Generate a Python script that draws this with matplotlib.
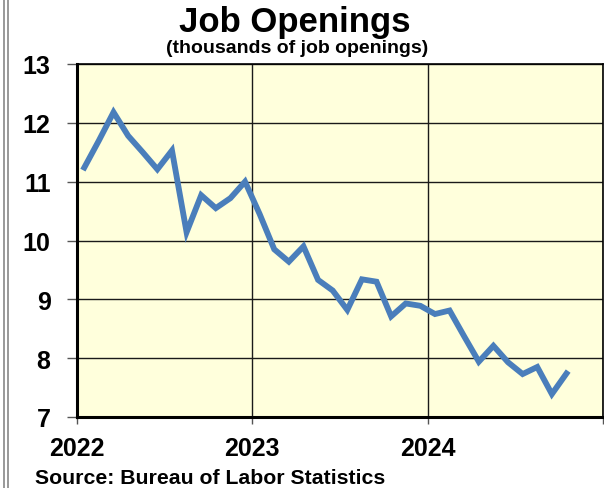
import matplotlib
matplotlib.use("Agg")
import matplotlib.pyplot as plt
from matplotlib.lines import Line2D

plt.rcParams['font.family'] = ['Liberation Sans', 'DejaVu Sans']
plt.rcParams['font.weight'] = 'bold'

# Monthly job openings (millions), Jan 2022 - Oct 2024
start_year = 2022
values = [11.24, 11.70, 12.18, 11.78, 11.50, 11.21, 11.53, 10.14, 10.77, 10.55, 10.72, 11.00,
          10.45, 9.85, 9.64, 9.90, 9.33, 9.15, 8.82, 9.34, 9.30, 8.71, 8.93, 8.89,
          8.75, 8.81, 8.37, 7.94, 8.21, 7.93, 7.73, 7.85, 7.39, 7.74]
x_ticks = [2022, 2023, 2024, 2025]
x_tick_labels = ['2022', '2023', '2024', '']
y_ticks = [7, 8, 9, 10, 11, 12, 13]

W, H = 604, 489
fig = plt.figure(figsize=(W / 100, H / 100), dpi=100)
ax = fig.add_axes([77 / W, 1 - 418 / H, (603 - 77) / W, (418 - 65) / H])

xs = [start_year + (i + 0.5) / 12 for i in range(len(values))]
ax.set_facecolor('#FFFFDC')
ax.plot(xs, values, color='#4A7EBB', lw=4.2, solid_joinstyle='miter', zorder=3)

ax.set_xlim(2022, 2025)
ax.set_ylim(7, 13)
ax.set_xticks(x_ticks)
ax.set_xticklabels(x_tick_labels)
ax.set_yticks(y_ticks)
ax.grid(True, color='#1a1a1a', lw=1.0)
ax.set_axisbelow(True)
for s in ax.spines.values():
    s.set_color('black')
    s.set_linewidth(1.2)
ax.spines['left'].set_linewidth(2.2)
ax.spines['bottom'].set_linewidth(2.2)
ax.tick_params(axis='y', length=7, width=1, color='#555555', pad=12, labelsize=18)
ax.tick_params(axis='x', length=5, width=1, color='#555555', pad=9, labelsize=18)
for lbl in ax.get_xticklabels() + ax.get_yticklabels():
    lbl.set_fontweight('bold')

fig.text(295 / W, 1 - 32 / H, 'Job Openings', ha='center', va='baseline',
         fontsize=25, fontweight='bold')
fig.text(297 / W, 1 - 53 / H, '(thousands of job openings)', ha='center', va='baseline',
         fontsize=14, fontweight='bold')
fig.text(35 / W, 1 - 484 / H, 'Source: Bureau of Labor Statistics', ha='left', va='baseline',
         fontsize=15.3, fontweight='bold')

for xp in (4, 8):
    fig.add_artist(Line2D([xp / W, xp / W], [0, 1], color='#888888', lw=1.2,
                          transform=fig.transFigure))

fig.savefig('out.png', dpi=100)
